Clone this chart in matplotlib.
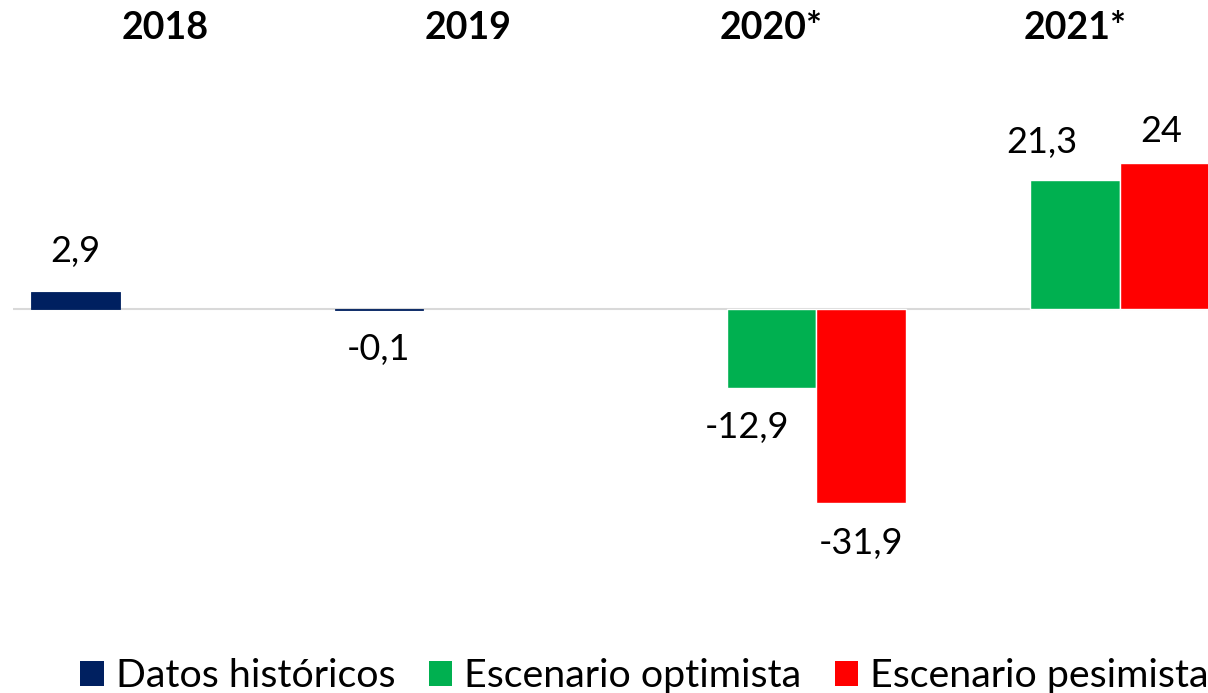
import matplotlib
matplotlib.use("Agg")
import matplotlib.pyplot as plt
import matplotlib.transforms as mtransforms
from matplotlib.patches import Patch
import numpy as np

plt.rcParams['font.family'] = ['Lato', 'DejaVu Sans']

categories = ["2018", "2019", "2020*", "2021*"]
series_names = ["Datos históricos", "Escenario optimista", "Escenario pesimista"]
historicos = [2.9, -0.1, None, None]
optimista = [None, None, -12.9, 21.3]
pesimista = [None, None, -31.9, 24.0]
value_labels = {"2,9": (0, 0), "-0,1": (1, 0), "-12,9": (2, 1), "-31,9": (2, 2),
                "21,3": (3, 1), "24": (3, 2)}
colors = ["#002060", "#00B050", "#FF0000"]

W, H, DPI = 1208, 693, 100
fig = plt.figure(figsize=(W / DPI, H / DPI), dpi=DPI)

# axes geometry in pixels
ax_left_px, ax_right_px = 13.3, 1226.6
ax_top_px, ax_bot_px = 100, 600
ax = fig.add_axes([ax_left_px / W, (H - ax_bot_px) / H,
                   (ax_right_px - ax_left_px) / W, (ax_bot_px - ax_top_px) / H])
ax.set_xlim(-0.5, 3.5)
ax.set_ylim(-47.8, 34.4)
ax.axis("off")

x = np.arange(len(categories))
bw = 0.295
all_series = [historicos, optimista, pesimista]
for i, (vals, col) in enumerate(zip(all_series, colors)):
    xs = [x[j] + (i - 1) * bw for j, v in enumerate(vals) if v is not None]
    vs = [v for v in vals if v is not None]
    if i == 0:
        ax.bar(xs, vs, width=bw * 0.99, color=col, edgecolor=col, linewidth=0.6, zorder=3)
    else:
        ax.bar(xs, vs, width=bw, color=col, edgecolor="white", linewidth=1.0, zorder=2)

ax.axhline(0, color="#d9d9d9", lw=1.5, zorder=1)

# value labels
nudges_px = {"-12,9": (-25, -40), "21,3": (-33, 37), "24": (-3, 32)}
for text, (j, i) in value_labels.items():
    v = all_series[i][j]
    xc = x[j] + (i - 1) * bw
    dx_px, dy_px = nudges_px.get(text, (0, 40 if v >= 0 else -40))
    ax.annotate(text, (xc, v), xytext=(dx_px * 0.72, dy_px * 0.72),
                textcoords="offset points", ha="center", va="center",
                fontsize=26, color="black")

# category labels at the top
trans = mtransforms.blended_transform_factory(ax.transData, fig.transFigure)
for j, c in enumerate(categories):
    ax.text(x[j], 1 - 28 / H, c, transform=trans, ha="center", va="center",
            fontsize=27, fontweight="bold", color="black")

handles = [Patch(facecolor=c, edgecolor="none") for c in colors]
fig.legend(handles, series_names, loc="center left", bbox_to_anchor=(80 / W, 1 - 676 / H),
           ncol=3, frameon=False, fontsize=28.4, handlelength=0.6, handleheight=0.6,
           handletextpad=0.3, columnspacing=0.85, borderpad=0, borderaxespad=0)

fig.savefig("out.png", dpi=DPI)
